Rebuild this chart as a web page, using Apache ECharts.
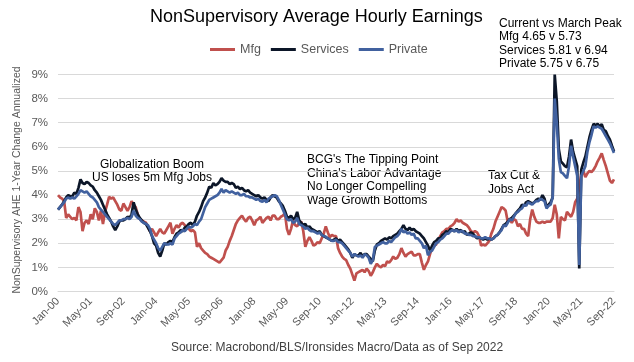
<!DOCTYPE html>
<html>
<head>
<meta charset="utf-8">
<script src="https://cdn.jsdelivr.net/npm/echarts@6/dist/echarts.min.js"></script>
<style>
html,body{margin:0;padding:0;background:#fff;}
#chart{width:634px;height:362px;}
</style>
</head>
<body>
<div id="chart"></div>
<script>
// ---- DATA ----
var startYear = 2000;
var monthCount = 273; // Jan-00 .. Sep-22
var monthNames = ['Jan','Feb','Mar','Apr','May','Jun','Jul','Aug','Sep','Oct','Nov','Dec'];
var seriesNames = ['Mfg', 'Services', 'Private'];
var yTicks = [0, 1, 2, 3, 4, 5, 6, 7, 8, 9];

var mfg = [
4.0, 3.9, 3.85, 3.75, 3.05, 3.2, 3.1, 3.0, 3.05, 2.95, 3.5, 3.3,
2.5, 2.85, 2.95, 2.8, 3.2, 3.0, 3.45, 3.3, 2.95, 3.35, 2.8, 3.3,
3.6, 3.93, 3.85, 3.9, 3.75, 3.6, 3.4, 3.35, 3.65, 3.5, 3.35, 3.5,
3.75, 3.6, 3.5, 3.2, 3.0, 2.95, 2.9, 2.85, 2.7, 2.5, 2.6, 2.45,
2.3, 2.45, 2.6, 2.45, 2.4, 2.55, 2.7, 2.85, 2.4, 2.6, 2.75, 2.65,
2.8, 2.85, 2.75, 2.65, 2.6, 2.5, 2.55, 2.45, 1.85, 2.0, 1.8, 1.7,
1.6, 1.55, 1.45, 1.4, 1.35, 1.3, 1.25, 1.2, 1.3, 1.4, 1.7, 1.85,
2.1, 2.3, 2.55, 2.8, 2.95, 3.05, 3.15, 3.0, 2.9, 3.05, 3.1, 2.95,
2.75, 2.95, 3.0, 3.1, 2.85, 2.95, 3.05, 3.1, 2.95, 3.15, 3.15, 3.0,
3.0, 3.1, 3.15, 3.25, 2.6, 2.35, 2.6, 2.95, 2.75, 2.7, 2.85, 2.9,
2.5, 1.85, 2.1, 2.25, 2.1, 1.9, 1.95, 2.05, 2.0, 2.2, 2.4, 2.7,
2.45, 2.25, 2.35, 2.3, 2.3, 1.8, 1.6, 1.45, 1.35, 1.3, 1.1, 0.95,
0.7, 0.45, 0.75, 0.8, 0.85, 0.9, 0.8, 0.95, 0.85, 0.65, 0.8, 1.0,
1.15, 1.05, 1.0, 1.1, 1.05, 1.25, 1.2, 1.3, 1.45, 1.35, 1.4, 1.55,
1.8, 1.6, 1.45, 1.55, 1.6, 1.65, 1.5, 1.5, 1.55, 1.55, 1.2, 0.9,
1.1, 1.25, 1.55, 1.8, 1.9, 1.95, 2.15, 2.3, 2.45, 2.5, 2.6, 2.6,
2.7, 2.75, 2.85, 3.0, 2.9, 2.95, 2.85, 2.8, 2.75, 2.65, 2.5, 2.45,
2.5, 2.45, 2.3, 1.9, 1.95, 1.9, 2.0, 2.1, 2.4, 2.6, 2.9, 3.1,
3.3, 3.5, 3.45, 3.35, 2.9, 3.0, 2.85, 3.0, 2.95, 2.7, 2.8, 2.6,
2.6, 2.4, 2.3, 3.0, 3.4, 3.1, 2.9, 2.85, 2.85, 2.9, 2.85, 2.9,
2.9, 2.9, 3.05, 3.6, 3.2, 2.2, 3.1, 3.0, 2.95, 3.3, 3.2, 3.1,
3.3, 3.7, 3.85, 4.3, 4.9, 5.0, 4.75, 4.9, 5.0, 4.95, 5.05, 5.2,
5.4, 5.55, 5.73, 5.45, 5.2, 4.9, 4.6, 4.5, 4.65
];

var services = [
3.4, 3.5, 3.6, 3.75, 3.9, 4.0, 3.95, 3.95, 4.1, 4.05, 4.3, 4.65,
4.5, 4.45, 4.55, 4.5, 4.4, 4.35, 4.2, 4.1, 3.95, 3.8, 3.6, 3.4,
3.2, 3.05, 2.9, 2.7, 2.55, 2.7, 2.9, 2.95, 2.95, 3.0, 3.1, 3.05,
3.2, 3.7, 3.4, 3.2, 3.05, 2.95, 2.85, 2.8, 2.65, 2.5, 2.3, 2.0,
1.9, 1.6, 1.45, 1.7, 2.0, 1.95, 2.05, 2.1, 2.05, 2.25, 2.4, 2.45,
2.55, 2.5, 2.65, 2.7, 2.8, 2.85, 2.75, 2.9, 3.15, 3.3, 3.5, 3.75,
3.9, 4.1, 4.35, 4.3, 4.5, 4.4, 4.45, 4.55, 4.7, 4.6, 4.55, 4.55,
4.45, 4.5, 4.45, 4.3, 4.35, 4.25, 4.3, 4.2, 4.15, 4.2, 4.1, 4.05,
4.0, 3.95, 4.0, 3.9, 3.85, 3.9, 3.8, 3.75, 3.9, 4.0, 3.95, 3.9,
3.75, 3.65, 3.55, 3.35, 3.1, 3.05, 3.15, 3.0, 3.05, 3.3, 2.95, 2.85,
2.75, 2.8, 2.65, 2.7, 2.6, 2.55, 2.5, 2.45, 2.5, 2.35, 2.3, 2.25,
2.2, 2.15, 2.1, 2.15, 2.2, 2.1, 2.15, 2.05, 1.95, 1.85, 1.75, 1.6,
1.4, 1.55, 1.5, 1.5, 1.6, 1.45, 1.55, 1.55, 1.45, 1.35, 1.25, 1.7,
1.95, 2.0, 2.1, 2.15, 2.2, 2.15, 2.25, 2.2, 2.3, 2.35, 2.4, 2.5,
2.6, 2.75, 2.6, 2.55, 2.65, 2.55, 2.6, 2.5, 2.45, 2.4, 2.3, 2.2,
2.05, 1.9, 1.7, 1.9, 2.05, 2.1, 2.2, 2.2, 2.35, 2.4, 2.5, 2.45,
2.6, 2.55, 2.5, 2.6, 2.5, 2.55, 2.45, 2.5, 2.35, 2.4, 2.45, 2.4,
2.3, 2.2, 2.25, 2.2, 2.15, 2.2, 2.15, 2.2, 2.15, 2.2, 2.3, 2.35,
2.45, 2.6, 2.75, 2.8, 2.9, 3.0, 3.05, 3.15, 3.25, 3.35, 3.45, 3.6,
3.55, 3.7, 3.75, 3.7, 3.65, 3.7, 3.8, 3.85, 3.8, 4.0, 3.85, 3.5,
3.6, 3.7, 3.9, 9.0, 7.9, 5.9, 5.4, 5.3, 5.2, 5.15, 5.6, 6.3,
5.8, 5.5, 5.2, 0.95, 5.05, 5.35, 5.6, 6.0, 6.4, 6.7, 6.95, 6.9,
6.95, 6.85, 6.94, 6.7, 6.65, 6.45, 6.3, 6.05, 5.81
];

var privateSeries = [
3.4, 3.5, 3.6, 3.7, 3.85, 3.9, 3.85, 3.9, 3.85, 3.95, 4.05, 4.2,
4.15, 4.1, 4.15, 4.05, 3.95, 3.9, 3.8, 3.7, 3.5, 3.4, 3.3, 3.2,
3.1, 3.0, 2.9, 2.8, 2.75, 2.85, 2.95, 2.95, 3.0, 3.0, 3.05, 3.0,
3.1, 3.35, 3.15, 3.05, 3.0, 2.9, 2.85, 2.8, 2.75, 2.6, 2.3, 2.15,
2.0, 1.8, 1.7, 1.85, 2.0, 1.95, 1.95, 2.0, 1.95, 2.2, 2.3, 2.4,
2.45, 2.55, 2.5, 2.6, 2.7, 2.65, 2.7, 2.8, 2.75, 2.9, 3.0, 3.25,
3.5, 3.65, 3.8, 3.85, 3.9, 3.95, 4.0, 4.1, 4.25, 4.1, 4.2, 4.15,
4.1, 4.15, 4.1, 4.05, 4.1, 4.0, 4.0, 4.05, 3.95, 3.95, 3.9, 3.9,
3.85, 3.8, 3.85, 3.75, 3.72, 3.8, 3.7, 3.85, 3.9, 3.95, 4.0, 3.95,
3.8, 3.6, 3.4, 3.2, 3.0, 2.95, 3.0, 2.85, 2.9, 3.05, 2.8, 2.75,
2.7, 2.6, 2.65, 2.55, 2.5, 2.5, 2.45, 2.4, 2.45, 2.35, 2.3, 2.27,
2.2, 2.15, 2.1, 2.1, 2.15, 2.05, 2.05, 2.0, 1.9, 1.8, 1.7, 1.6,
1.45, 1.55, 1.5, 1.45, 1.5, 1.4, 1.55, 1.5, 1.4, 1.15, 1.3, 1.85,
1.9, 1.95, 2.0, 2.05, 2.0, 2.0, 2.1, 2.05, 2.15, 2.25, 2.3, 2.4,
2.6, 2.45, 2.5, 2.4, 2.45, 2.35, 2.4, 2.2, 2.2, 2.1, 2.0, 1.8,
1.9, 1.5, 1.65, 1.7, 1.85, 2.0, 2.05, 2.15, 2.2, 2.3, 2.4, 2.4,
2.5, 2.55, 2.5, 2.55, 2.45, 2.5, 2.5, 2.4, 2.4, 2.35, 2.35, 2.3,
2.3, 2.25, 2.25, 2.2, 2.2, 2.25, 2.2, 2.2, 2.15, 2.2, 2.3, 2.35,
2.45, 2.55, 2.75, 2.7, 2.85, 3.0, 2.95, 3.1, 3.25, 3.3, 3.4, 3.45,
3.6, 3.55, 3.7, 3.65, 3.6, 3.7, 3.75, 3.75, 3.85, 3.8, 3.75, 3.45,
3.55, 3.6, 3.9, 8.0, 7.0, 5.5, 4.95, 4.9, 4.8, 4.7, 5.2, 6.05,
5.6, 5.2, 4.8, 1.1, 4.8, 5.0, 5.2, 5.8, 6.2, 6.5, 6.85, 6.8,
6.85, 6.8, 6.75, 6.6, 6.45, 6.3, 6.15, 5.95, 5.75
];

var categories = [];
for (var i = 0; i < monthCount; i++) {
  var y = startYear + Math.floor(i / 12);
  var m = i % 12;
  categories.push(monthNames[m] + '-' + String(y % 100).padStart(2, '0'));
}

var colors = ['#c0504d', '#0c1628', '#41619f'];

var chart = echarts.init(document.getElementById('chart'), null, {renderer: 'canvas'});
var font = 'Liberation Sans, Arial, sans-serif';
chart.setOption({
  animation: false,
  backgroundColor: '#ffffff',
  color: colors,
  textStyle: {fontFamily: font},
  title: {
    text: 'NonSupervisory Average Hourly Earnings',
    left: 145, top: 3,
    textStyle: {fontSize: 18, fontWeight: 'normal', color: '#000', fontFamily: font}
  },
  legend: {
    data: seriesNames,
    left: 205, top: 38,
    icon: 'rect', itemWidth: 25, itemHeight: 3, itemGap: 10,
    textStyle: {fontSize: 12.5, color: '#595959', fontFamily: font}
  },
  grid: {left: 58, right: 20, top: 74.5, bottom: 70.5, containLabel: false},
  xAxis: {
    type: 'category',
    data: categories,
    boundaryGap: false,
    axisLine: {show: true, lineStyle: {color: '#d9d9d9'}},
    axisTick: {show: false},
    axisLabel: {interval: 15, rotate: 45, fontSize: 11, color: '#595959', margin: 8, fontFamily: font}
  },
  yAxis: {
    type: 'value',
    min: yTicks[0], max: yTicks[yTicks.length - 1], interval: 1,
    axisLine: {show: false},
    axisTick: {show: false},
    splitLine: {lineStyle: {color: '#d9d9d9', width: 1}},
    axisLabel: {formatter: '{value}%', fontSize: 11.5, color: '#595959', margin: 10, fontFamily: font}
  },
  series: [
    {name: seriesNames[0], type: 'line', data: mfg, symbol: 'none', lineStyle: {width: 2.7, color: colors[0]}, z: 2},
    {name: seriesNames[1], type: 'line', data: services, symbol: 'none', lineStyle: {width: 2.7, color: colors[1]}, z: 3},
    {name: seriesNames[2], type: 'line', data: privateSeries, symbol: 'none', lineStyle: {width: 2.7, color: colors[2]}, z: 4}
  ],
  graphic: [
    {type: 'text', x: 499, y: 17, style: {text: 'Current vs March Peak\nMfg 4.65 v 5.73\nServices 5.81 v 6.94\nPrivate 5.75 v 6.75', font: '12px ' + font, fill: '#000', lineHeight: 13.4, textVerticalAlign: 'top', textAlign: 'left'}},
    {type: 'text', x: 152, y: 157.5, style: {text: 'Globalization Boom\nUS loses 5m Mfg Jobs', font: '12px ' + font, fill: '#000', lineHeight: 13.4, textVerticalAlign: 'top', textAlign: 'center'}},
    {type: 'text', x: 307, y: 153.3, style: {text: "BCG's The Tipping Point\nChina's Labor Advantage\nNo Longer Compelling\nWage Growth Bottoms", font: '12px ' + font, fill: '#000', lineHeight: 13.5, textVerticalAlign: 'top', textAlign: 'left'}},
    {type: 'text', x: 488, y: 169, style: {text: 'Tax Cut &\nJobs Act', font: '12px ' + font, fill: '#000', lineHeight: 14, textVerticalAlign: 'top', textAlign: 'left'}},
    {type: 'text', x: 17.5, y: 180, rotation: Math.PI / 2, style: {text: 'NonSupervisory AHE 1-Year Change Annualized', font: '10.5px ' + font, fill: '#595959', textVerticalAlign: 'middle', textAlign: 'center'}},
    {type: 'text', x: 337, y: 348, style: {text: 'Source: Macrobond/BLS/Ironsides Macro/Data as of Sep 2022', font: '12px ' + font, fill: '#404040', textVerticalAlign: 'middle', textAlign: 'center'}}
  ]
});
</script>
</body>
</html>
